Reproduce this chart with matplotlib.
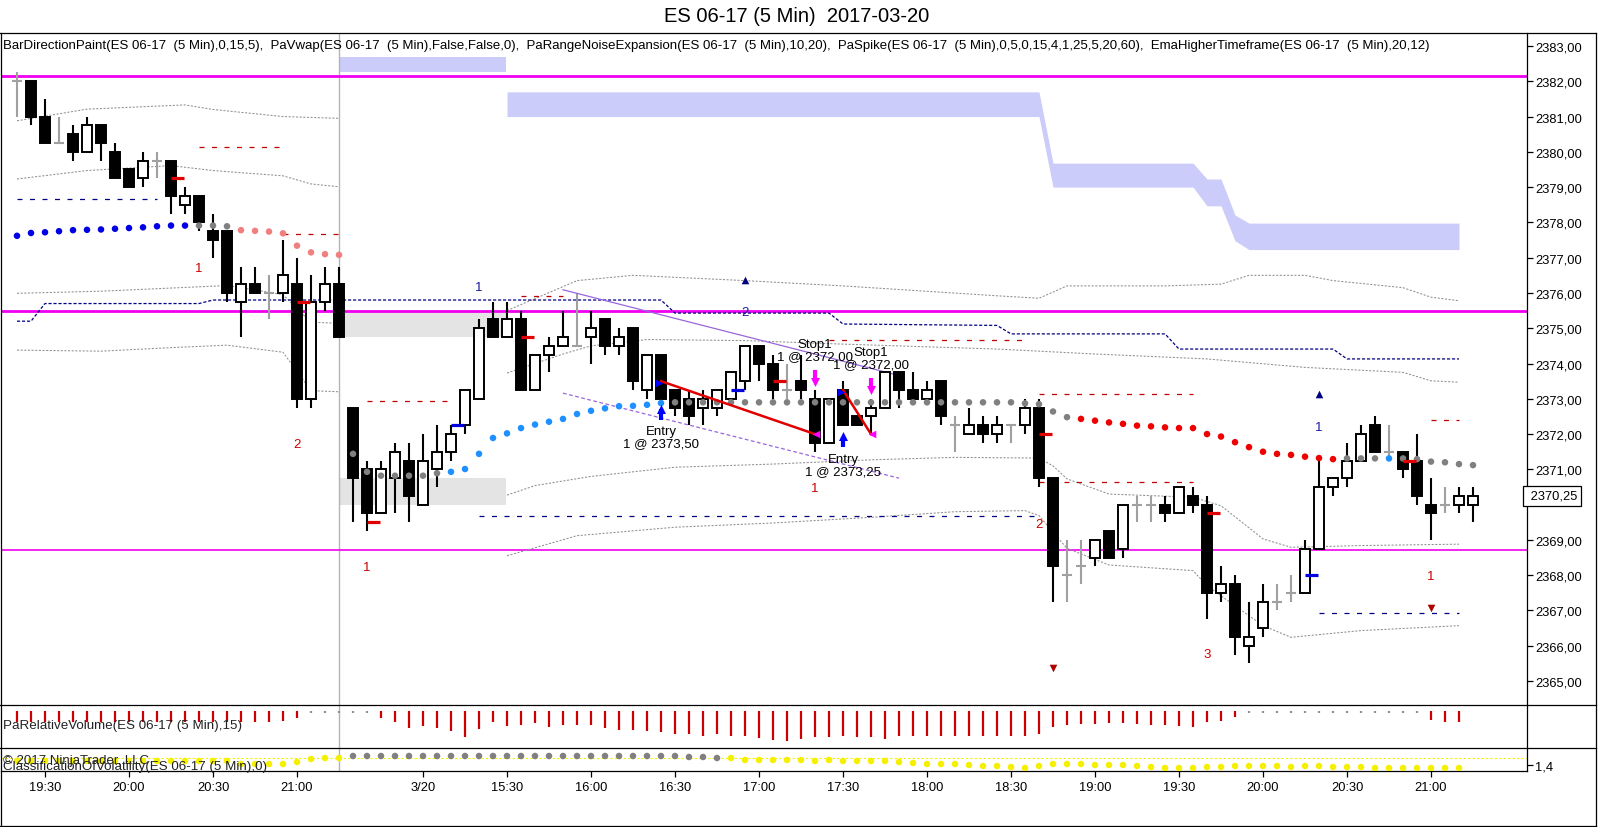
import numpy as np
import matplotlib.pyplot as plt
from matplotlib.patches import Rectangle
from matplotlib.lines import Line2D
from matplotlib.transforms import blended_transform_factory

plt.rcParams['font.family'] = ['Liberation Sans', 'DejaVu Sans']

# ---------------- data ----------------
opens = [2382.0, 2382.0, 2381.0, 2380.25, 2380.5, 2380.0, 2380.75, 2380.0, 2379.5, 2379.25,
         2379.75, 2379.75, 2378.5, 2378.75, 2377.75, 2377.75, 2375.75, 2376.25, 2376.0, 2376.0,
         2376.25, 2373.0, 2375.75, 2376.25, 2372.75, 2371.0, 2369.75, 2370.75, 2371.25, 2370.0,
         2371.0, 2371.5, 2372.25, 2373.0, 2375.25, 2374.75, 2375.25, 2373.25, 2374.25, 2374.5,
         2374.5, 2374.75, 2375.25, 2374.5, 2375.0, 2373.25, 2374.25, 2373.25, 2373.0, 2372.75,
         2372.75, 2373.0, 2373.5, 2374.5, 2374.0, 2373.25, 2373.5, 2373.0, 2371.75, 2373.25,
         2372.5, 2372.5, 2372.75, 2373.75, 2373.25, 2373.0, 2373.5, 2372.25, 2372.0, 2372.25,
         2372.0, 2372.25, 2372.25, 2372.75, 2370.75, 2368.0, 2368.25, 2368.5, 2369.25, 2368.75,
         2370.0, 2370.0, 2370.0, 2369.75, 2370.25, 2370.0, 2367.5, 2367.75, 2366.0, 2366.5,
         2367.25, 2367.5, 2367.5, 2368.75, 2370.5, 2370.75, 2371.25, 2372.25, 2371.5, 2371.5,
         2371.25, 2370.0, 2370.0, 2370.0, 2370.0]
highs = [2382.25, 2382.0, 2381.5, 2381.0, 2380.75, 2381.0, 2380.75, 2380.25, 2379.5, 2380.0,
         2380.0, 2379.75, 2379.0, 2378.75, 2378.25, 2377.75, 2376.75, 2376.75, 2376.5, 2377.5,
         2377.0, 2376.5, 2376.75, 2376.75, 2372.75, 2371.25, 2371.25, 2371.75, 2371.75, 2372.0,
         2372.25, 2372.25, 2373.25, 2375.25, 2375.75, 2375.75, 2375.5, 2374.25, 2374.75, 2375.5,
         2376.0, 2375.5, 2375.25, 2375.0, 2375.0, 2374.25, 2374.25, 2373.25, 2373.25, 2373.25,
         2373.25, 2373.75, 2374.5, 2374.5, 2374.25, 2374.0, 2374.25, 2373.25, 2373.0, 2373.5,
         2372.5, 2373.0, 2373.75, 2373.75, 2373.75, 2373.5, 2373.5, 2372.5, 2372.75, 2372.5,
         2372.5, 2372.25, 2373.0, 2373.0, 2370.75, 2369.0, 2369.0, 2369.0, 2369.25, 2370.0,
         2370.25, 2370.25, 2370.25, 2370.5, 2370.5, 2370.25, 2368.25, 2368.0, 2367.25, 2367.75,
         2367.75, 2368.0, 2369.0, 2371.25, 2370.75, 2371.75, 2372.25, 2372.5, 2372.25, 2371.5,
         2372.0, 2370.75, 2370.5, 2370.5, 2370.5]
lows = [2381.0, 2380.75, 2380.25, 2380.25, 2379.75, 2380.0, 2379.75, 2379.25, 2379.0, 2379.0,
        2379.25, 2378.25, 2378.25, 2377.75, 2377.0, 2375.75, 2374.75, 2376.0, 2375.25, 2375.75,
        2372.75, 2372.75, 2375.5, 2374.75, 2369.5, 2369.25, 2369.75, 2369.75, 2369.5, 2370.0,
        2370.5, 2371.25, 2372.0, 2373.0, 2374.75, 2374.75, 2373.25, 2373.25, 2373.75, 2374.5,
        2374.5, 2374.0, 2374.25, 2374.25, 2373.25, 2373.0, 2373.0, 2372.5, 2372.25, 2372.25,
        2372.5, 2373.0, 2373.25, 2373.5, 2373.0, 2373.0, 2373.0, 2371.5, 2371.75, 2372.25,
        2372.25, 2372.0, 2372.75, 2372.75, 2373.0, 2373.0, 2372.25, 2371.5, 2372.0, 2371.75,
        2371.75, 2371.75, 2372.0, 2370.5, 2367.25, 2367.25, 2367.75, 2368.25, 2368.5, 2368.5,
        2369.5, 2369.5, 2369.5, 2369.75, 2369.75, 2366.75, 2367.25, 2365.75, 2365.5, 2366.25,
        2367.0, 2367.25, 2367.5, 2368.75, 2370.25, 2370.5, 2371.25, 2371.5, 2371.25, 2370.75,
        2370.0, 2369.0, 2369.75, 2369.75, 2369.5]
closes = [2382.0, 2381.0, 2380.25, 2380.25, 2380.0, 2380.75, 2380.25, 2379.25, 2379.0, 2379.75,
          2379.75, 2378.75, 2378.75, 2378.0, 2377.5, 2376.0, 2376.25, 2376.0, 2376.0, 2376.5,
          2373.0, 2375.75, 2376.25, 2374.75, 2370.75, 2369.75, 2371.0, 2371.5, 2370.25, 2371.25,
          2371.5, 2372.0, 2373.25, 2375.0, 2374.75, 2375.25, 2373.25, 2374.25, 2374.5, 2374.75,
          2374.5, 2375.0, 2374.5, 2374.75, 2373.5, 2374.25, 2373.0, 2372.75, 2372.5, 2373.0,
          2373.25, 2373.75, 2374.5, 2374.0, 2373.25, 2373.25, 2373.25, 2371.75, 2373.0, 2372.25,
          2372.25, 2372.75, 2373.75, 2373.25, 2373.0, 2373.25, 2372.5, 2372.25, 2372.25, 2372.0,
          2372.25, 2372.25, 2372.75, 2370.75, 2368.25, 2368.0, 2368.25, 2369.0, 2368.5, 2370.0,
          2370.0, 2370.0, 2369.75, 2370.5, 2370.0, 2367.5, 2367.75, 2366.25, 2366.25, 2367.25,
          2367.25, 2367.5, 2368.75, 2370.5, 2370.75, 2371.25, 2372.0, 2371.5, 2371.5, 2371.0,
          2370.25, 2369.75, 2370.0, 2370.25, 2370.25]

tick_bars = [2, 8, 14, 20, 29, 35, 41, 47, 53, 59, 65, 71, 77, 83, 89, 95, 101]
tick_labels = ['19:30', '20:00', '20:30', '21:00', '3/20', '15:30', '16:00', '16:30', '17:00',
               '17:30', '18:00', '18:30', '19:00', '19:30', '20:00', '20:30', '21:00']
session_break = 23
last_price = 2370.25

# key levels (magenta)
levels = [2382.15, 2375.48, 2368.72]

# EMA higher timeframe band
htf1_bars = [23, 34.9]
htf1_upper = [2382.7, 2382.7]
htf1_lower = [2382.26, 2382.26]
htf2_bars = [35, 73, 74, 84, 85, 86, 87, 88, 103]
htf2_upper = [2381.7, 2381.7, 2379.68, 2379.68, 2379.23, 2379.23, 2378.21, 2377.98, 2377.98]
htf2_lower = [2381.0, 2381.0, 2379.0, 2379.0, 2378.47, 2378.47, 2377.48, 2377.23, 2377.23]

# range noise zones (bar_from, bar_to, low, high)
zones = [(23, 34.9, 2374.75, 2375.5), (23, 34.9, 2370.0, 2370.75)]

# range noise expansion lines
s1_a_x = [0, 5, 12, 14, 19, 23]
s1_a = [2380.88, 2381.21, 2381.33, 2381.2, 2381.0, 2380.95]
s1_b_x = [0, 5, 11, 14, 19, 21, 23]
s1_b = [2379.23, 2379.47, 2379.61, 2379.47, 2379.32, 2379.09, 2379.01]
s1_c_x = [0, 6, 15, 18, 19, 21, 23]
s1_c = [2375.99, 2376.05, 2376.21, 2376.02, 2375.95, 2375.17, 2375.14]
s1_d_x = [0, 6, 11, 15, 19, 21, 23]
s1_d = [2374.38, 2374.35, 2374.45, 2374.52, 2374.32, 2373.23, 2373.2]
s2_a_x = [35, 40, 44, 52, 59, 70, 73, 75, 82, 86, 88, 92, 94, 99, 101, 103]
s2_a = [2375.5, 2376.35, 2376.5, 2376.35, 2376.2, 2375.92, 2375.85, 2376.2, 2376.2, 2376.25,
        2376.5, 2376.5, 2376.35, 2376.15, 2375.88, 2375.78]
s2_b_x = [35, 39, 41, 45, 52, 59, 70, 77, 85, 92, 99, 101, 103]
s2_b = [2373.73, 2374.27, 2374.5, 2374.68, 2374.65, 2374.55, 2374.41, 2374.27, 2374.13,
        2373.89, 2373.75, 2373.51, 2373.47]
s2_c_x = [35, 37, 41, 47, 54, 61, 67, 73, 74, 75, 78, 84, 86, 89, 91, 96, 103]
s2_c = [2370.27, 2370.54, 2370.8, 2371.06, 2371.15, 2371.27, 2371.34, 2371.32, 2371.1, 2370.73,
        2370.3, 2370.21, 2369.97, 2369.03, 2368.79, 2368.84, 2368.88]
s2_d_x = [35, 40, 47, 54, 61, 67, 72, 73, 74, 75, 78, 84, 85, 89, 91, 96, 103]
s2_d = [2368.55, 2369.12, 2369.36, 2369.48, 2369.64, 2369.8, 2369.83, 2369.69, 2369.22, 2368.76,
        2368.29, 2368.13, 2367.7, 2366.57, 2366.24, 2366.43, 2366.57]

# vwap step line
vwap_x = [0, 1, 2, 13, 14, 46, 47, 58, 59, 70, 71, 82, 83, 94, 95, 103]
vwap = [2375.2, 2375.2, 2375.7, 2375.7, 2375.8, 2375.8, 2375.43, 2375.43, 2375.12, 2375.08,
        2374.84, 2374.84, 2374.41, 2374.41, 2374.13, 2374.13]

# short dashed levels (price, bar_from, bar_to)
red_levels = [(2380.15, 13, 19), (2377.67, 19, 23), (2372.95, 25, 31), (2375.9, 36, 39),
              (2374.68, 58, 72), (2373.15, 73, 84), (2370.65, 73, 84), (2372.41, 101, 103)]
navy_levels = [(2378.66, 0, 10), (2369.67, 33, 73), (2366.92, 93, 103)]

# EMA dots, trend: 1 up, 0 flat, -1 down
ema1 = [2377.62, 2377.7, 2377.72, 2377.75, 2377.78, 2377.79, 2377.8, 2377.82, 2377.84, 2377.86,
        2377.89, 2377.91, 2377.91, 2377.91, 2377.91, 2377.89, 2377.78, 2377.76, 2377.74, 2377.69,
        2377.34, 2377.15, 2377.1, 2377.08]
ema1_trend = [1] * 13 + [0] * 3 + [-1] * 8
ema2 = [2371.44, 2370.93, 2370.82, 2370.82, 2370.82, 2370.82, 2370.89, 2370.93, 2371.01, 2371.44,
        2371.89, 2372.02, 2372.17, 2372.27, 2372.35, 2372.43, 2372.57, 2372.66, 2372.73, 2372.79,
        2372.8, 2372.83, 2372.88] + [2372.9] * 25 + [
        2372.87, 2372.85, 2372.64, 2372.48, 2372.43, 2372.38, 2372.33, 2372.29, 2372.24, 2372.22,
        2372.19, 2372.17, 2372.17, 2372.0, 2371.93, 2371.77, 2371.63, 2371.5, 2371.44, 2371.41,
        2371.36, 2371.32, 2371.29, 2371.31, 2371.31, 2371.31, 2371.31, 2371.31, 2371.29, 2371.22,
        2371.2, 2371.15, 2371.12]
ema2_trend = [0] * 7 + [1] * 16 + [0] * 29 + [-1] * 19 + [0] * 3 + [1] + [0] * 6

# bar markers
red_ticks_x = [11, 20, 25, 36, 54, 73, 85, 99]
red_ticks_y = [2379.25, 2375.75, 2369.5, 2374.75, 2373.5, 2372.0, 2369.75, 2371.25]
blue_ticks_x = [31, 51, 92]
blue_ticks_y = [2372.25, 2373.25, 2368.0]

# spike counts
red_counts = [(13, 2376.7, '1'), (20, 2371.72, '2'), (25, 2368.22, '1'), (57, 2370.46, '1'),
              (73, 2369.45, '2'), (85, 2365.77, '3'), (101, 2367.97, '1')]
navy_counts = [(33, 2376.18, '1'), (52, 2375.47, '2'), (93, 2372.19, '1')]
up_triangles = [(52, 2376.38), (93, 2373.14)]
down_triangles = [(74, 2365.37), (101, 2367.06)]

# channel
chan_x = [39, 63]
chan_upper = [2376.09, 2373.66]
chan_lower = [2373.16, 2370.75]

# trades: bar, price, arrow tip, label centre, label
entries = [(46, 2373.5, 2372.82, 2371.92, 'Entry\n1 @ 2373,50'),
           (59, 2373.25, 2372.05, 2371.13, 'Entry\n1 @ 2373,25')]
exits = [(57, 2372.0, 2373.37, 2374.39, 'Stop1\n1 @ 2372,00'),
         (61, 2372.0, 2373.14, 2374.15, 'Stop1\n1 @ 2372,00')]

# relative volume
rel_vol = ([1.17] * 17 + [1.1, 1.1, 1.0, 0.73] + [0.27] * 5 +
           [0.73, 1.1, 1.73, 1.5, 1.73, 2.07, 2.6, 1.83, 1.17, 1.5, 1.4, 1.27, 1.67, 1.4, 1.4,
            1.4, 1.73, 1.9, 1.93, 2.07, 2.17, 2.33, 2.33, 2.57, 2.33, 2.57, 2.57, 2.77, 2.9, 3.0,
            2.83, 2.67, 2.67, 2.57, 2.67, 2.67, 2.83, 2.5, 2.5, 2.57, 2.5, 2.5, 2.57, 2.57, 2.57,
            2.57, 2.5, 2.33, 1.67, 1.43, 1.33, 1.33, 1.27, 1.27, 1.33, 1.43, 1.43, 1.5, 1.6, 1.1,
            1.0, 0.67] + [0.27] * 13 + [0.9, 1.1, 1.1])

# classification of volatility
volat = ([1.44] * 16 + [1.41] * 4 + [1.43, 1.46, 1.47, 1.47] + [1.49] * 23 +
         [1.49, 1.48, 1.48, 1.47, 1.47, 1.45, 1.45, 1.45, 1.45,
          1.45, 1.44, 1.45, 1.44, 1.44, 1.44, 1.44, 1.43, 1.42, 1.41, 1.41, 1.41, 1.4, 1.39,
          1.39, 1.38, 1.37, 1.39, 1.41, 1.41, 1.41, 1.4, 1.4, 1.4, 1.39, 1.38, 1.37, 1.37, 1.37,
          1.38, 1.38, 1.39, 1.39, 1.39, 1.39, 1.38, 1.39, 1.39, 1.38, 1.38, 1.38, 1.37, 1.37,
          1.37, 1.37, 1.37, 1.37, 1.37])
volat_class = [1] * 24 + [0] * 27 + [1] * 53
volat_level = 1.47

legend_text = ('BarDirectionPaint(ES 06-17  (5 Min),0,15,5),  PaVwap(ES 06-17  (5 Min),False,False,0),  '
               'PaRangeNoiseExpansion(ES 06-17  (5 Min),10,20),  '
               'PaSpike(ES 06-17  (5 Min),0,5,0,15,4,1,25,5,20,60),  '
               'EmaHigherTimeframe(ES 06-17  (5 Min),20,12)')

# ---------------- layout ----------------
W, H = 1600, 828
fig = plt.figure(figsize=(W / 100, H / 100), dpi=100)


def rect(x0, y0, x1, y1):
    return [x0 / W, 1 - y1 / H, (x1 - x0) / W, (y1 - y0) / H]


def fig_line(x0, y0, x1, y1):
    fig.add_artist(Line2D([x0 / W, x1 / W], [1 - y0 / H, 1 - y1 / H],
                          transform=fig.transFigure, color='black', lw=0.9))


ax = fig.add_axes(rect(1, 34, 1527, 706))
axv = fig.add_axes(rect(1, 706, 1527, 749), sharex=ax)
axc = fig.add_axes(rect(1, 749, 1527, 772), sharex=ax)

ax.set_xlim((1 - 17) / 14, (1527 - 17) / 14)
ax.set_ylim(2383 - 659 / 35.28, 2383 + 13 / 35.28)

for a in (ax, axv, axc):
    for s in a.spines.values():
        s.set_visible(False)
    a.spines['right'].set_visible(True)
    a.spines['right'].set_linewidth(0.9)
    a.axvline(session_break, color='#b4b4b4', lw=1, zorder=0.5)
axc.spines['bottom'].set_visible(True)
axc.spines['bottom'].set_linewidth(0.9)

# ---------------- main panel ----------------
ax.fill_between(htf1_bars, htf1_lower, htf1_upper, color='#ccccfa', lw=0, zorder=0.3)
ax.fill_between(htf2_bars, htf2_lower, htf2_upper, color='#ccccfa', lw=0, zorder=0.3)
for b0, b1, lo, hi in zones:
    ax.add_patch(Rectangle((b0, lo), b1 - b0, hi - lo, fc='#e4e4e4', ec='none', zorder=0.4))

for i, lv in enumerate(levels):
    ax.axhline(lv, color='#f000f0', lw=2.0 if i < 2 else 1.2, zorder=1)

for xs, ys in [(s1_a_x, s1_a), (s1_b_x, s1_b), (s1_c_x, s1_c), (s1_d_x, s1_d),
               (s2_a_x, s2_a), (s2_b_x, s2_b), (s2_c_x, s2_c), (s2_d_x, s2_d)]:
    ax.plot(xs, ys, color='#909090', lw=0.75, ls=(0, (2, 1.5)), zorder=1.5)

ax.plot(vwap_x, vwap, color='#000080', lw=0.9, ls=(0, (2.5, 1.5)), zorder=1.5)
for p, b0, b1 in red_levels:
    ax.plot([b0, b1], [p, p], color='#c00000', lw=0.9, ls=(0, (4, 6)), zorder=1.5)
for p, b0, b1 in navy_levels:
    ax.plot([b0, b1], [p, p], color='#000080', lw=0.9, ls=(0, (4, 6)), zorder=1.5)

# candles
o, h, l, c = map(np.array, (opens, highs, lows, closes))
x = np.arange(len(o))
flat = c == o
ax.vlines(x[~flat], l[~flat], h[~flat], color='black', lw=1.5, zorder=3)
ax.vlines(x[flat], l[flat], h[flat], color='#a0a0a0', lw=1.5, zorder=3)
ax.hlines(o[flat], x[flat] - 0.33, x[flat] + 0.33, color='#a0a0a0', lw=1.5, zorder=3)
for i in x[~flat]:
    lo, hi = min(o[i], c[i]), max(o[i], c[i])
    ax.add_patch(Rectangle((i - 0.34, lo), 0.68, hi - lo, lw=1.4, ec='black',
                           fc='white' if c[i] > o[i] else 'black', zorder=4))

# channel lines
ax.plot(chan_x, chan_upper, color='#9966dd', lw=0.9, zorder=3.5)
ax.plot(chan_x, chan_lower, color='#9966dd', lw=0.9, ls=(0, (3, 2)), zorder=3.5)

# ema dots
pal1 = {1: '#0000e6', 0: '#808080', -1: '#f08080'}
pal2 = {1: '#1e90ff', 0: '#808080', -1: '#ee0000'}
ax.scatter(np.arange(len(ema1)), ema1, s=22, c=[pal1[t] for t in ema1_trend], lw=0, zorder=6)
ax.scatter(np.arange(len(ema2)) + len(ema1), ema2, s=22, c=[pal2[t] for t in ema2_trend],
           lw=0, zorder=6)

ax.hlines(red_ticks_y, np.array(red_ticks_x), np.array(red_ticks_x) + 0.95,
          color='#e00000', lw=2.3, zorder=7)
ax.hlines(blue_ticks_y, np.array(blue_ticks_x), np.array(blue_ticks_x) + 0.95,
          color='#0000e0', lw=2.3, zorder=7)

for bx, by, t in red_counts:
    ax.text(bx, by, t, color='#cc0000', fontsize=9.5, ha='center', va='center', zorder=8)
for bx, by, t in navy_counts:
    ax.text(bx, by, t, color='#1a1aa0', fontsize=9.5, ha='center', va='center', zorder=8)
ax.scatter(*zip(*up_triangles), marker='^', s=30, color='#000080', lw=0, zorder=8)
ax.scatter(*zip(*down_triangles), marker='v', s=30, color='#b00000', lw=0, zorder=8)

# trades
for (ex, ep, etip, ety, et), (sx, sp, stip, sty, st) in zip(entries, exits):
    ax.plot([ex, sx], [ep, sp], color='#e00000', lw=1.8, zorder=7)
    ax.scatter([ex - 0.15], [ep - 0.05], marker='>', s=30, color='#0000ff', lw=0, zorder=8)
    ax.scatter([sx + 0.05], [sp], marker='<', s=30, color='#ff00ff', lw=0, zorder=8)
    # up arrow under the entry bar
    ax.vlines(ex, etip - 0.42, etip - 0.12, color='#0000ff', lw=3.0, zorder=8)
    ax.scatter([ex], [etip - 0.1], marker='^', s=42, color='#0000ff', lw=0, zorder=8)
    # down arrow above the exit bar
    ax.vlines(sx, stip + 0.12, stip + 0.44, color='#ff00ff', lw=3.0, zorder=8)
    ax.scatter([sx], [stip + 0.1], marker='v', s=42, color='#ff00ff', lw=0, zorder=8)
    ax.text(ex, ety, et, fontsize=9.5, ha='center', va='center', linespacing=1.05, zorder=8)
    ax.text(sx, sty, st, fontsize=9.5, ha='center', va='center', linespacing=1.05, zorder=8)

# price axis
price_ticks = [p for p in range(2365, 2384) if abs(p - last_price) > 0.5]
ax.yaxis.tick_right()
ax.set_yticks(price_ticks)
ax.set_yticklabels([f'{p:.2f}'.replace('.', ',') for p in price_ticks])
ax.tick_params(axis='y', direction='out', length=4, width=0.9, pad=2, labelsize=9.3)
ax.tick_params(axis='x', bottom=False, labelbottom=False)
tr = blended_transform_factory(ax.transAxes, ax.transData)
ax.text(1.0, last_price, ' ' + f'{last_price:.2f}'.replace('.', ','), transform=tr,
        fontsize=9.3, ha='left', va='center', zorder=9, clip_on=False,
        bbox=dict(boxstyle='square,pad=0.3', fc='white', ec='black', lw=0.9))

fig.text(3 / W, 1 - 46 / H, legend_text, fontsize=9.5, va='center', ha='left')
fig.text(797 / W, 1 - 17 / H, 'ES 06-17 (5 Min)  2017-03-20', fontsize=14.5, ha='center',
         va='center')

# ---------------- relative volume ----------------
rv = np.array(rel_vol)
xv = np.arange(len(rv))
axv.vlines(xv, 0, rv, colors=['#909090' if v < 0.5 else '#cc0000' for v in rv], lw=1.6)
axv.set_ylim(3.73, -0.57)
axv.set_yticks([])
axv.tick_params(axis='x', bottom=False, labelbottom=False)
fig.text(3 / W, 1 - 726 / H, 'PaRelativeVolume(ES 06-17 (5 Min),15)', fontsize=9.6,
         va='center', ha='left', color='#222222')

# ---------------- volatility ----------------
axc.set_ylim(1.34, 1.57)
axc.axhline(volat_level, color='#f0f000', lw=0.8, ls=(0, (2, 2)), zorder=1)
xc = np.arange(len(volat))
axc.scatter(xc, volat, s=22, c=['#f5f000' if k else '#808080' for k in volat_class],
            lw=0, zorder=3)
axc.yaxis.tick_right()
axc.set_yticks([1.4])
axc.set_yticklabels(['1,4'])
axc.tick_params(axis='y', direction='out', length=4, width=0.9, pad=2, labelsize=9.3)
axc.set_xticks(tick_bars)
axc.set_xticklabels(tick_labels)
axc.tick_params(axis='x', direction='out', length=4, width=0.9, pad=3, labelsize=9.3)
fig.text(3 / W, 1 - 761 / H, '\u00a9 2017 NinjaTrader, LLC', fontsize=9.5, va='center',
         ha='left', color='#222222')
fig.text(3 / W, 1 - 767 / H, 'ClassificationOfVolatility(ES 06-17 (5 Min),0)', fontsize=9.6,
         va='center', ha='left', color='#222222')

# ---------------- frame ----------------
fig_line(0, 34, 1596, 34)
fig_line(1596, 34, 1596, 827)
fig_line(0, 827, 1596, 827)
fig_line(1, 34, 1, 827)
fig_line(0, 706, 1596, 706)
fig_line(0, 749, 1596, 749)

fig.savefig('out.png', dpi=100, facecolor='white')
